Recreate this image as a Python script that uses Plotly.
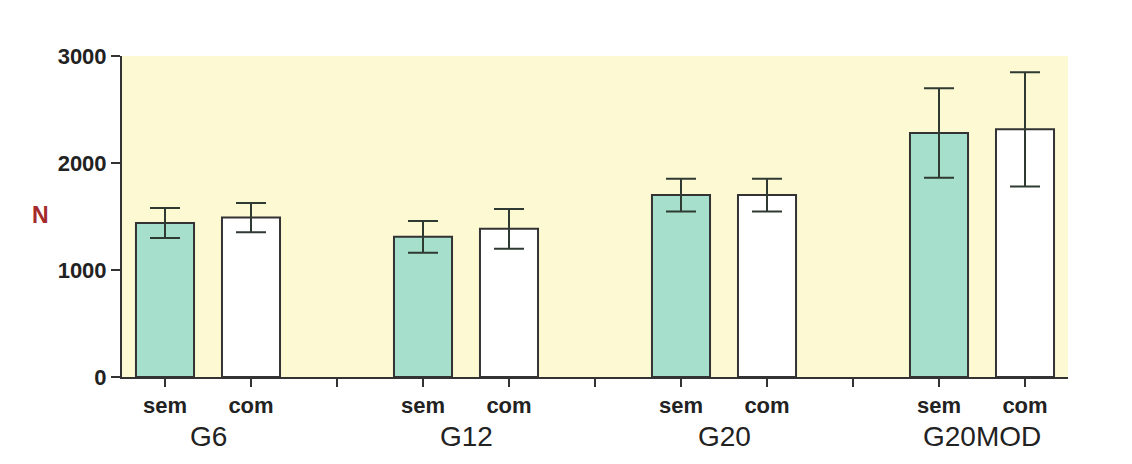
import plotly.graph_objects as go

groups = ["G6", "G12", "G20", "G20MOD"]
sub_labels = ["sem", "com"]
sem_values = [1440, 1310, 1700, 2280]
sem_err = [140, 148, 153, 418]
com_values = [1490, 1385, 1700, 2315]
com_err = [137, 186, 153, 534]
y_ticks = [0, 1000, 2000, 3000]
y_title = "N"

# slot positions: sem, com, gap per group
sem_x = [i * 3 for i in range(len(groups))]
com_x = [i * 3 + 1 for i in range(len(groups))]
tickvals = list(range(3 * len(groups) - 1))
ticktext = []
for i in range(len(groups)):
    ticktext += sub_labels
    if i < len(groups) - 1:
        ticktext.append("")

edge = "#333333"
fig = go.Figure()
fig.add_trace(go.Bar(
    x=sem_x, y=sem_values, width=0.675,
    marker=dict(color="#a6dfcc", line=dict(color=edge, width=2)),
    error_y=dict(type="data", array=sem_err, visible=True, color="#2f3a33",
                 thickness=2, width=15),
    showlegend=False,
))
fig.add_trace(go.Bar(
    x=com_x, y=com_values, width=0.675,
    marker=dict(color="#ffffff", line=dict(color=edge, width=2)),
    error_y=dict(type="data", array=com_err, visible=True, color="#2f3a33",
                 thickness=2, width=15),
    showlegend=False,
))

for i, g in enumerate(groups):
    fig.add_annotation(x=i * 3 + 0.5, y=-0.185, xref="x", yref="paper",
                       text=g, showarrow=False, yanchor="middle",
                       font=dict(family="Liberation Sans, Arial", size=28, color="#222222"))

fig.add_annotation(x=-0.097, y=0.505, xref="paper", yref="paper", text="<b>%s</b>" % y_title,
                   showarrow=False, font=dict(family="Liberation Sans, Arial", size=23, color="#a52a2a"))

fig.update_layout(
    width=1132, height=464,
    margin=dict(l=114, r=72, t=48, b=95),
    paper_bgcolor="#ffffff",
    plot_bgcolor="#fcf9d3",
    barmode="overlay",
    font=dict(family="Liberation Sans, Arial", color="#222222"),
)
fig.update_xaxes(
    range=[-0.5, 10.5], tickvals=tickvals, ticktext=["<b>%s</b>" % t if t else "" for t in ticktext],
    ticks="outside", ticklen=8, tickwidth=2, tickcolor=edge,
    showline=True, linecolor=edge, linewidth=2, showgrid=False, zeroline=False,
    tickfont=dict(size=22, family="Liberation Sans, Arial", color="#222222"),
)
fig.update_yaxes(
    range=[0, 3000], tickvals=y_ticks, ticktext=["<b>%d</b>" % v for v in y_ticks],
    ticks="outside", ticklen=9, tickwidth=2, tickcolor=edge,
    showline=True, linecolor=edge, linewidth=2, showgrid=False, zeroline=False,
    tickfont=dict(size=22, family="Liberation Sans, Arial", color="#222222"),
)

fig.write_html("out.html")
